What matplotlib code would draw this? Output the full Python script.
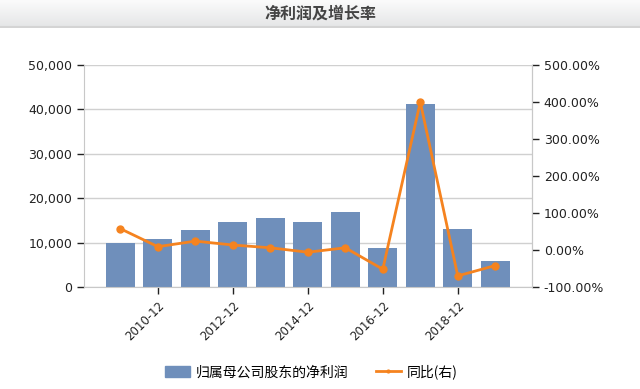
import matplotlib
matplotlib.use("Agg")
import matplotlib.pyplot as plt
import numpy as np
from matplotlib.ticker import FuncFormatter, FixedLocator
from matplotlib.lines import Line2D
from matplotlib.patches import Patch

categories = ["2009-12", "2010-12", "2011-12", "2012-12", "2013-12", "2014-12",
              "2015-12", "2016-12", "2017-12", "2018-12", "2019-12"]
net_profit = [9900, 10740, 12900, 14700, 15540, 14700, 16890, 8860, 41150, 13130, 5930]
yoy_pct = [57.6, 9.0, 24.0, 13.5, 6.0, -6.0, 6.0, -52.0, 400.0, -70.0, -42.0]
title = "净利润及增长率"
bar_label = "归属母公司股东的净利润"
line_label = "同比(右)"

bar_color = "#6f8fbb"
line_color = "#f5831f"
grid_color = "#d0d0d0"
text_color = "#222222"

plt.rcParams['font.family'] = ['DejaVu Sans', 'Noto Sans CJK SC']

fig = plt.figure(figsize=(6.4, 3.89), dpi=100)

# title band with gradient
band_h = 28
band = fig.add_axes([0, 1 - band_h/389, 1, band_h/389])
grad = np.linspace(0, 1, 50).reshape(-1, 1)
band.imshow(grad, aspect='auto', cmap=matplotlib.colors.LinearSegmentedColormap.from_list(
    'g', ['#fbfbfb', '#e4e5e6']), extent=[0, 1, 0, 1])
band.axhline(0.02, color='#d4d4d4', lw=1.5)
band.set_axis_off()
fig.text(0.5, 1 - 14/389, title, ha='center', va='center', fontsize=11.5,
         fontweight='bold', color='#444444', family=['Noto Sans CJK SC', 'DejaVu Sans'])

ax = fig.add_axes([84/640, 1 - 287/389, (532 - 84)/640, (287 - 65)/389])
x = np.arange(len(categories))
ax.bar(x, net_profit, width=0.78, color=bar_color, zorder=2)
ax.set_xlim(-0.97, 10.98)
ax.set_ylim(0, 50000)
ax.yaxis.set_major_locator(FixedLocator([0, 10000, 20000, 30000, 40000, 50000]))
ax.yaxis.set_major_formatter(FuncFormatter(lambda v, p: f"{int(v):,}"))
ax.grid(axis='y', color=grid_color, lw=1, zorder=0)
ax.set_xticks(x[1::2])
ax.set_xticklabels(categories[1::2], rotation=45, ha='right', rotation_mode='anchor')
ax.spines['top'].set_visible(False)
for s in ['left', 'right', 'bottom']:
    ax.spines[s].set_color('#c8c8c8')
ax.tick_params(axis='y', labelsize=9, colors='#222222', length=5, width=1, labelcolor=text_color)
ax.tick_params(axis='x', labelsize=8.5, length=5, width=1, colors='#222222', labelcolor=text_color)

ax2 = ax.twinx()
ax2.plot(x, yoy_pct, color=line_color, lw=2, marker='o', markersize=5, zorder=3)
ax2.set_ylim(-100, 500)
ax2.yaxis.set_major_locator(FixedLocator([-100, 0, 100, 200, 300, 400, 500]))
ax2.yaxis.set_major_formatter(FuncFormatter(lambda v, p: f"{v:.2f}%"))
ax2.tick_params(axis='y', labelsize=9, length=5, width=1, colors='#222222', labelcolor=text_color)
for s in ['top', 'left', 'bottom']:
    ax2.spines[s].set_visible(False)
ax2.spines['right'].set_color('#c8c8c8')

handles = [Patch(color=bar_color, label=bar_label),
           Line2D([0], [0], color=line_color, lw=2, marker='o', markersize=2, label=line_label)]
fig.legend(handles=handles, loc='center', bbox_to_anchor=(0.486, 1 - 372/389), ncol=2,
           frameon=False, handlelength=1.8, handleheight=0.9, handletextpad=0.4,
           columnspacing=2.0,
           prop={'family': ['Noto Sans CJK SC', 'DejaVu Sans'], 'size': 10})

fig.savefig("out.png", dpi=100)
